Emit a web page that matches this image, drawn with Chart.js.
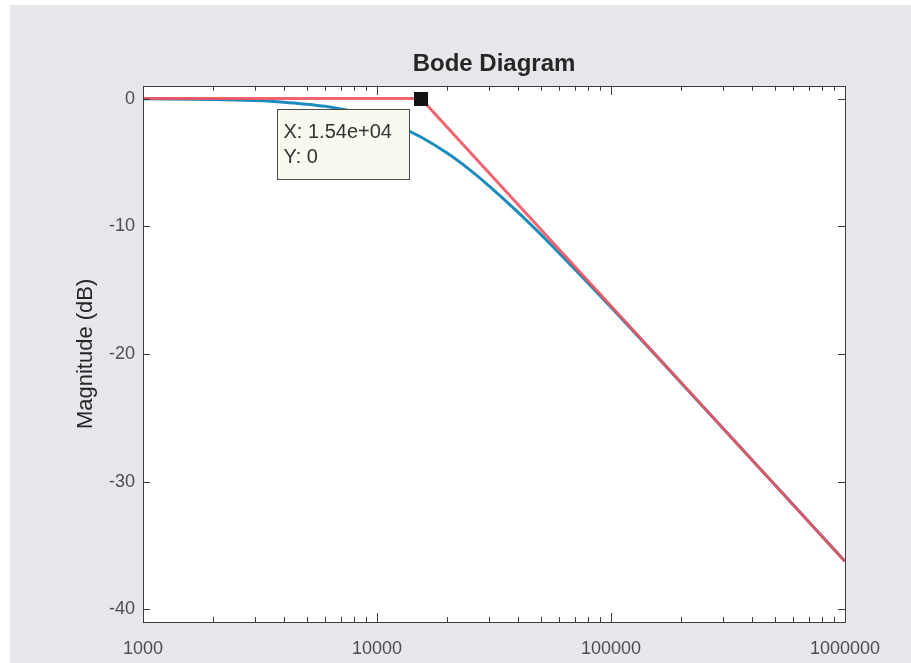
<!DOCTYPE html>
<html>
<head>
<meta charset="utf-8">
<script src="https://cdn.jsdelivr.net/npm/chart.js@4.4.1/dist/chart.umd.min.js"></script>
<style>
  body { margin: 0; background: #ffffff; }
  #bg { position: absolute; left: 10px; top: 5px; width: 901px; height: 658px; background: #e7e6eb; }
  #chart { position: absolute; left: 0; top: 0; }
</style>
</head>
<body>
<div id="bg"></div>
<canvas id="chart" width="911" height="663"></canvas>
<script>
var freqs = [1000, 2000, 3000, 4000, 5000, 6000, 7000, 8000, 10000, 12000, 15400, 20000,
             25000, 30000, 40000, 50000, 70000, 100000, 150000, 200000, 300000, 500000, 700000, 1000000];
var magDb = [-0.02, -0.07, -0.16, -0.28, -0.44, -0.61, -0.82, -1.04, -1.53, -2.06, -3.01, -4.29,
             -5.6, -6.81, -8.89, -10.62, -13.36, -16.35, -19.82, -22.3, -25.8, -30.23, -33.15, -36.25];

// asymptote (red)
var asymFreqs = [1000, 15400, 1000000];
var asymDb = [0, 0, -36.25];

// data tip
var tipX = 15400;
var tipY = 0;
var tipLines = ["X: 1.54e+04", "Y: 0"];

var xTicks = [1000, 10000, 100000, 1000000];
var yTicks = [-40, -30, -20, -10, 0];

var font = "'Liberation Sans', Arial, Helvetica, sans-serif";

const boxTicks = {
    id: 'boxTicks',
    beforeDraw(chart) {
        const { ctx, chartArea: a } = chart;
        ctx.save();
        ctx.fillStyle = '#ffffff';
        ctx.fillRect(a.left, a.top, a.right - a.left, a.bottom - a.top);
        ctx.restore();
    },
    afterDatasetsDraw(chart) {
        const { ctx, chartArea: a, scales } = chart;
        ctx.save();
        ctx.strokeStyle = '#3c3c3c';
        ctx.lineWidth = 1;
        ctx.beginPath();
        // minor and major log ticks, inward on top and bottom
        for (let d = 1000; d < 1000000; d *= 10) {
            for (let m = 1; m <= 10; m++) {
                const v = d * m;
                const px = Math.round(scales.x.getPixelForValue(v)) + 0.5;
                const len = (m === 1 || m === 10) ? 9 : 5;
                ctx.moveTo(px, a.bottom); ctx.lineTo(px, a.bottom - len);
                ctx.moveTo(px, a.top); ctx.lineTo(px, a.top + len);
            }
        }
        yTicks.forEach((v) => {
            const py = Math.round(scales.y.getPixelForValue(v)) + 0.5;
            ctx.moveTo(a.left, py); ctx.lineTo(a.left + 7, py);
            ctx.moveTo(a.right, py); ctx.lineTo(a.right - 7, py);
        });
        ctx.stroke();
        ctx.strokeRect(Math.round(a.left) + 0.5, Math.round(a.top) + 0.5,
                       Math.round(a.right - a.left), Math.round(a.bottom - a.top));

        // data tip
        const mx = scales.x.getPixelForValue(tipX);
        const my = scales.y.getPixelForValue(tipY);
        const bx = Math.round(mx - 144) + 0.5, by = Math.round(my + 10) + 0.5;
        ctx.fillStyle = '#f9f9ef';
        ctx.fillRect(bx, by, 132, 70);
        ctx.strokeStyle = '#4a4a4a';
        ctx.strokeRect(bx, by, 132, 70);
        ctx.fillStyle = '#333333';
        ctx.font = '20px ' + font;
        ctx.textBaseline = 'middle';
        ctx.fillText(tipLines[0], bx + 6, by + 23);
        ctx.fillText(tipLines[1], bx + 6, by + 48);
        ctx.fillStyle = '#111111';
        ctx.fillRect(Math.round(mx - 7), Math.round(my - 7), 14, 14);
        ctx.restore();
    }
};

var config = {
    type: 'line',
    data: {
        datasets: [{
            data: asymFreqs.map((f, i) => ({ x: f, y: asymDb[i] })),
            borderColor: 'rgba(240, 82, 94, 0.9)',
            borderWidth: 3,
            pointRadius: 0,
            fill: false
        }, {
            data: freqs.map((f, i) => ({ x: f, y: magDb[i] })),
            borderColor: '#1c8cbe',
            borderWidth: 3,
            pointRadius: 0,
            cubicInterpolationMode: 'monotone',
            fill: false
        }]
    },
    options: {
        responsive: false,
        animation: false,
        layout: { padding: { left: 0, right: 66, top: 0, bottom: 0 } },
        plugins: {
            legend: { display: false },
            tooltip: { enabled: false },
            title: {
                display: true,
                text: 'Bode Diagram',
                fullSize: false,
                color: '#262626',
                font: { family: font, size: 24, weight: 'bold' },
                padding: { top: 50, bottom: 7 }
            }
        },
        scales: {
            x: {
                type: 'logarithmic',
                min: 1000,
                max: 1000000,
                afterBuildTicks: (s) => { s.ticks = xTicks.map((v) => ({ value: v })); },
                afterFit: (s) => { s.height = 41; },
                grid: { display: false, drawTicks: false },
                border: { display: false },
                ticks: {
                    autoSkip: false,
                    maxRotation: 0,
                    padding: 16,
                    color: '#4d4d4d',
                    font: { family: font, size: 18 },
                    callback: (v) => String(v)
                }
            },
            y: {
                min: -41,
                max: 1,
                afterBuildTicks: (s) => { s.ticks = yTicks.map((v) => ({ value: v })); },
                afterFit: (s) => { s.width = 143; },
                grid: { display: false, drawTicks: false },
                border: { display: false },
                ticks: {
                    padding: 8,
                    color: '#4d4d4d',
                    font: { family: font, size: 18 }
                },
                title: {
                    display: true,
                    text: 'Magnitude (dB)',
                    color: '#262626',
                    font: { family: font, size: 22 },
                    padding: { top: 73, bottom: 0 }
                }
            }
        }
    },
    plugins: [boxTicks]
};

var chart = new Chart(document.getElementById('chart'), config);
</script>
</body>
</html>
